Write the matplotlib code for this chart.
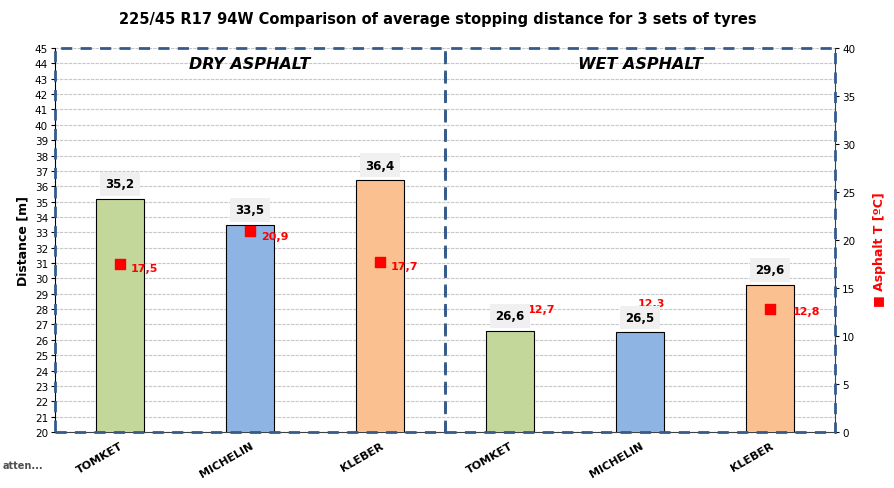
import numpy as np
import matplotlib.pyplot as plt
from matplotlib.patches import Rectangle

tyres = ['TOMKET', 'MICHELIN', 'KLEBER', 'TOMKET', 'MICHELIN', 'KLEBER']
distance = [35.2, 33.5, 36.4, 26.6, 26.5, 29.6]
asphalt_t = [17.5, 20.9, 17.7, 12.7, 12.3, 12.8]
bar_colors = ['#C4D79B', '#8DB4E2', '#FAC090', '#C4D79B', '#8DB4E2', '#FAC090']
sections = ['DRY ASPHALT', 'WET ASPHALT']

# label offsets for temperature values (points)
t_offsets = [(8, -3), (8, -3), (8, -3), (13, 1), (-2, 8), (16, -1)]

fig = plt.figure(figsize=(8.94, 4.89), dpi=100)
ax = fig.add_axes([0.0615, 0.1145, 0.8725, 0.7853])
ax2 = ax.twinx()

x = np.arange(len(tyres))
ax.bar(x, distance, 0.37, color=bar_colors, edgecolor='black', linewidth=0.8, zorder=3)
ax.set_xlim(-0.5, len(tyres) - 0.5)
ax.set_ylim(20, 45)
ax.set_yticks(np.arange(20, 46, 1))
ax.tick_params(axis='y', labelsize=7.5, length=3, pad=2)
ax.set_xticks(x)
ax.set_xticklabels(tyres, rotation=30, ha='right', rotation_mode='anchor',
                   fontsize=8, fontweight='bold')
ax.tick_params(axis='x', length=0, pad=6)
ax.grid(axis='y', color='#C8C8C8', linewidth=0.8, linestyle=(0, (3, 1)), zorder=0)
ax.set_axisbelow(True)
ax.set_ylabel('Distance [m]', fontsize=9, fontweight='bold', labelpad=4)
for s in ['top', 'right']:
    ax.spines[s].set_visible(False)
ax.spines['left'].set_color('black')
ax.spines['bottom'].set_color('#404040')

ax2.set_ylim(0, 40)
ax2.set_yticks(np.arange(0, 41, 5))
ax2.tick_params(axis='y', labelsize=7.5, length=3, pad=2)
ax2.scatter(x, asphalt_t, marker='s', s=45, color='red', zorder=4)
for xi, t, off in zip(x, asphalt_t, t_offsets):
    ax2.annotate(f'{t:.1f}'.replace('.', ','), (xi, t), xytext=off,
                 textcoords='offset points', ha='left', va='center',
                 fontsize=8, fontweight='bold', color='red', zorder=4)
for s in ['top', 'left', 'bottom']:
    ax2.spines[s].set_visible(False)
ax2.spines['right'].set_color('#404040')

# distance value labels drawn on top of the temperature markers
for xi, d in zip(x, distance):
    ax2.annotate(f'{d:.1f}'.replace('.', ','), (xi, d), xycoords=ax.transData,
                 xytext=(0, 6), textcoords='offset points', ha='center', va='bottom',
                 fontsize=8.5, fontweight='bold', zorder=6,
                 bbox=dict(boxstyle='square,pad=0.45', fc='#F0F0F0', ec='none'))

# dashed section boxes
for i, name in enumerate(sections):
    x0 = -0.5 + 3 * i
    ax2.add_patch(Rectangle((x0, 20), 3, 25, transform=ax.transData, fill=False,
                            edgecolor='#355B8C', linewidth=2, linestyle=(0, (4, 3)),
                            zorder=5, clip_on=False))
    ax2.text(x0 + 1.5, 44.0, name, transform=ax.transData, ha='center', va='center',
             fontsize=11.5, fontweight='bold', fontstyle='italic', zorder=6)

fig.text(0.984, 0.49, '■ Asphalt T [ºC]', rotation=90, ha='center', va='center',
         fontsize=9, fontweight='bold', color='red')
fig.text(0.003, 0.048, 'atten...', ha='left', va='center', fontsize=7,
         fontweight='bold', color='#505050')

fig.suptitle('225/45 R17 94W Comparison of average stopping distance for 3 sets of tyres',
             x=0.49, y=0.975, fontsize=10.5, fontweight='bold')

fig.savefig('out.png', dpi=100)
